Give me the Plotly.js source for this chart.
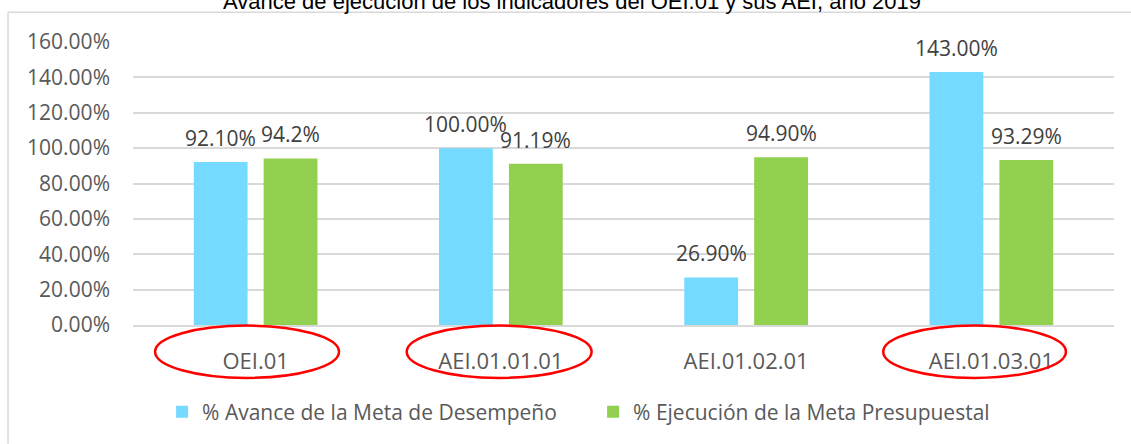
<!DOCTYPE html>
<html>
<head>
<meta charset="utf-8">
<script src="https://cdn.plot.ly/plotly-3.0.1.min.js"></script>
<style>html,body{margin:0;padding:0;background:#fff;}#chart{width:1131px;height:444px;}</style>
</head>
<body>
<div id="chart"></div>
<script>
const categories = ["OEI.01", "AEI.01.01.01", "AEI.01.02.01", "AEI.01.03.01"];
const seriesNames = ["% Avance de la Meta de Desempeño", "% Ejecución de la Meta Presupuestal"];
const avance = [92.10, 100.00, 26.90, 143.00];
const ejecucion = [94.2, 91.19, 94.90, 93.29];
const avanceLabels = ["92.10%", "100.00%", "26.90%", "143.00%"];
const ejecucionLabels = ["94.2%", "91.19%", "94.90%", "93.29%"];
const yTickVals = [0, 20, 40, 60, 80, 100, 120, 140, 160];
const yTickText = ["0.00%", "20.00%", "40.00%", "60.00%", "80.00%", "100.00%", "120.00%", "140.00%", "160.00%"];
const circled = ["OEI.01", "AEI.01.01.01", "AEI.01.03.01"];
const titleText = "Avance de ejecución de los indicadores del OEI.01 y sus AEI, año 2019";

const FONT = "Open Sans, Noto Sans, sans-serif";
const traces = [
  {type: "bar", name: seriesNames[0], x: categories, y: avance,
   marker: {color: "#75DAFF"}, hoverinfo: "skip"},
  {type: "bar", name: seriesNames[1], x: categories, y: ejecucion,
   marker: {color: "#92D050"}, hoverinfo: "skip"}
];

const annotations = [];
const labelSets = [[avance, avanceLabels, -35], [ejecucion, ejecucionLabels, 35]];
labelSets.forEach(([vals, labels, shift]) => {
  vals.forEach((v, i) => {
    annotations.push({x: categories[i], y: v, xref: "x", yref: "y", text: labels[i],
      showarrow: false, xanchor: "center", yanchor: "bottom", xshift: shift, yshift: 8,
      font: {family: FONT, size: 21, color: "#404040"}});
  });
});
annotations.push({text: titleText, xref: "paper", yref: "paper", x: 0.448, y: 1.143,
  xanchor: "center", yanchor: "middle", showarrow: false,
  font: {family: "Liberation Sans Narrow, Arial Narrow, sans-serif", size: 22, color: "#000"}});

const ellipseOffsets = {"OEI.01": [-0.41, 0.34], "AEI.01.01.01": [-0.384, 0.37], "AEI.01.03.01": [-0.441, 0.304]};
const shapes = [];
circled.forEach(c => {
  const idx = categories.indexOf(c);
  shapes.push({type: "circle", xref: "x", yref: "paper",
    x0: idx + ellipseOffsets[c][0], x1: idx + ellipseOffsets[c][1], y0: -0.187, y1: -0.002,
    line: {color: "#FF0000", width: 2.5}});
});
// chart frame (top and left borders)
shapes.push({type: "line", xref: "paper", yref: "paper", x0: -0.1274, x1: 1.02, y0: 1.105, y1: 1.105,
  line: {color: "#D9D9D9", width: 1.5}});
shapes.push({type: "line", xref: "paper", yref: "paper", x0: -0.1274, x1: -0.1274, y0: 1.105, y1: -0.42,
  line: {color: "#D9D9D9", width: 1.5}});

const layout = {
  width: 1131, height: 444,
  margin: {l: 133, r: 17, t: 42, b: 116.5},
  paper_bgcolor: "#fff", plot_bgcolor: "#fff",
  barmode: "group", bargap: 0.43, bargroupgap: 0.23,
  showlegend: true,
  legend: {orientation: "h", x: 0.469, xanchor: "center", y: -0.235, yanchor: "top",
    font: {family: FONT, size: 21, color: "#595959"}, itemwidth: 30, tracegroupgap: 0,
    traceorder: "normal", entrywidth: 386, entrywidthmode: "pixels"},
  xaxis: {type: "category", tickfont: {family: FONT, size: 22, color: "#595959"},
    showline: true, linecolor: "#D9D9D9", linewidth: 2, ticks: "", ticklabelstandoff: 16, fixedrange: true},
  yaxis: {range: [0, 160], tickvals: yTickVals, ticktext: yTickText,
    tickfont: {family: FONT, size: 21, color: "#595959"},
    showgrid: true, gridcolor: "#D9D9D9", gridwidth: 2, zeroline: false, showline: false,
    ticks: "", ticklabelstandoff: 22, fixedrange: true},
  annotations: annotations,
  shapes: shapes
};
Plotly.newPlot("chart", traces, layout, {displayModeBar: false, staticPlot: true});
</script>
</body>
</html>
